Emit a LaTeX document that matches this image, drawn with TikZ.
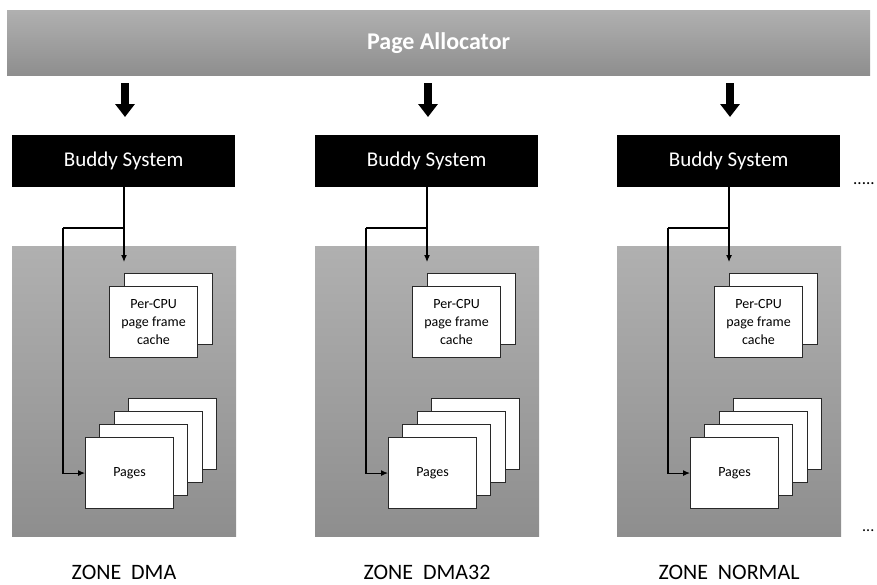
\documentclass[tikz,border=0pt]{standalone}
\usepackage{fontspec}
\setmainfont{Carlito}
\usetikzlibrary{arrows.meta}
\definecolor{gtop}{RGB}{176,176,176}
\definecolor{gbot}{RGB}{142,142,142}
\definecolor{edge}{RGB}{40,40,40}
\begin{document}
\begin{tikzpicture}[x=1pt,y=-1pt,
  pagebox/.style={draw=edge, line width=1.1pt, fill=white, minimum width=88pt, minimum height=71pt, anchor=north west, inner sep=0pt},
  buddy/.style={fill=black, text=white, minimum width=223pt, minimum height=52pt, anchor=north west, inner sep=0pt, font=\fontsize{21}{25}\selectfont},
  zonebox/.style={top color=gtop, bottom color=gbot, minimum width=224pt, minimum height=290pt, anchor=north west, inner sep=0pt},
  bigarrow/.style={line width=8pt, -{Triangle[width=19pt,length=13pt]}, shorten <=8pt, shorten >=18pt},
  link/.style={line width=1.1pt, -{Latex[length=7pt,width=6pt]}},
  zlabel/.style={inner sep=0pt, font=\fontsize{22}{26}\selectfont}
]
\useasboundingbox (0,0) rectangle (877,584);
\node[top color=gtop, bottom color=gbot, minimum width=863pt, minimum height=65pt, anchor=north west, inner sep=0pt, text=white, font=\bfseries\fontsize{24}{28}\selectfont] (alloc) at (7,10) {Page Allocator};
\foreach \i/\dx/\zname in {0/0/DMA, 1/303/DMA32, 2/605/NORMAL}{
  \node[buddy] (b\i) at (12+\dx,135) {\raisebox{-1.5pt}{Buddy System}};
  \node[zonebox] (z\i) at (12+\dx,246) {};
  \coordinate (top\i) at (125+\dx,75);
  \coordinate (bot\i) at (125+\dx,135);
  \draw[bigarrow] (top\i) -- (bot\i);
  \node[pagebox] (cb\i) at (124+\dx,273) {};
  \node[pagebox, align=center, font=\fontsize{14}{18}\selectfont] (c\i) at (109+\dx,286) {Per-CPU\\page frame\\cache};
  \node[pagebox] (pd\i) at (128+\dx,398) {};
  \node[pagebox] (pc\i) at (114+\dx,411) {};
  \node[pagebox] (pb\i) at (99+\dx,424) {};
  \node[pagebox, font=\fontsize{14}{18}\selectfont] (p\i) at (85+\dx,437) {Pages};
  \coordinate (s\i) at (124+\dx,187);
  \coordinate (t\i) at (124+\dx,262);
  \coordinate (k\i) at (124+\dx,228);
  \coordinate (e\i) at (63+\dx,228);
  \draw[link] (s\i) -- (t\i);
  \draw[line width=1.1pt] (k\i) -- (e\i);
  \draw[link] (e\i) |- (p\i.west);
  \node[zlabel] (l\i) at (124+\dx,572) {ZONE\ \ \zname};
}
\node[anchor=west, inner sep=0pt, font=\fontsize{17}{20}\selectfont] (dots1) at (853,184) {.....};
\node[anchor=west, inner sep=0pt, font=\fontsize{16}{20}\selectfont] (dots2) at (862,531) {...};
\end{tikzpicture}
\end{document}
